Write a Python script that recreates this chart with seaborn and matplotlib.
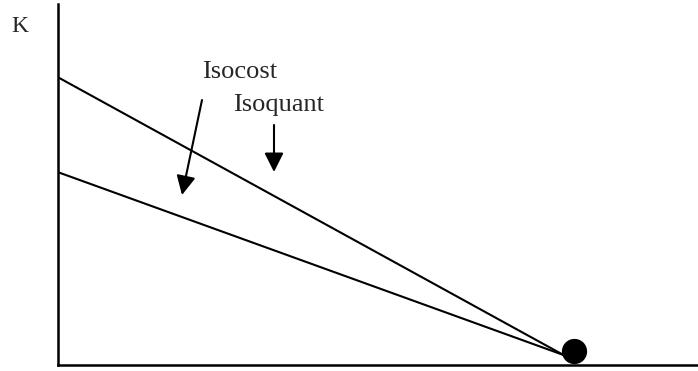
import numpy as np
import pandas as pd
import seaborn as sns
import matplotlib
matplotlib.use("Agg")
import matplotlib.pyplot as plt

# chart values (arbitrary units)
labour = [0, 506]
isocost_k = [288, 10]
isoquant_k = [193, 10]
optimum_l = [516]
optimum_k = [14]

sns.set_style("white")
plt.rcParams['font.family'] = ['Liberation Serif', 'DejaVu Serif']

df = pd.DataFrame({'L': labour * 2,
                   'K': isocost_k + isoquant_k,
                   'curve': ['Isocost'] * 2 + ['Isoquant'] * 2})

fig = plt.figure(figsize=(6.98, 3.71), dpi=100)
ax = fig.add_axes([57.5 / 698, 6 / 371, 640.5 / 698, 361 / 371])

sns.lineplot(data=df, x='L', y='K', units='curve', estimator=None,
             color='black', linewidth=1.5, ax=ax, legend=False)
sns.scatterplot(x=optimum_l, y=optimum_k, color='black', s=330,
                linewidth=0, ax=ax, clip_on=False, zorder=5)

ax.set_xlim(0, 640.5)
ax.set_ylim(0, 361)
ax.set_xticks([])
ax.set_yticks([])
ax.set_xlabel('')
ax.set_ylabel('')
sns.despine(ax=ax)
for s in ['left', 'bottom']:
    ax.spines[s].set_linewidth(1.8)
    ax.spines[s].set_color('black')

ax.text(-37.5, 333, 'K', fontsize=17, ha='center', va='baseline', clip_on=False)
ax.text(182, 287, 'Isocost', fontsize=19, ha='center', va='baseline')
ax.text(221.5, 254, 'Isoquant', fontsize=19, ha='center', va='baseline')

arrow = dict(arrowstyle='-|>', color='black', lw=1.5, mutation_scale=29,
             shrinkA=0, shrinkB=0)
ax.annotate('', xy=(124.5, 170), xytext=(144.5, 265), arrowprops=arrow)
ax.annotate('', xy=(216.5, 193), xytext=(216.5, 240), arrowprops=arrow)

fig.savefig('out.png', dpi=100)
